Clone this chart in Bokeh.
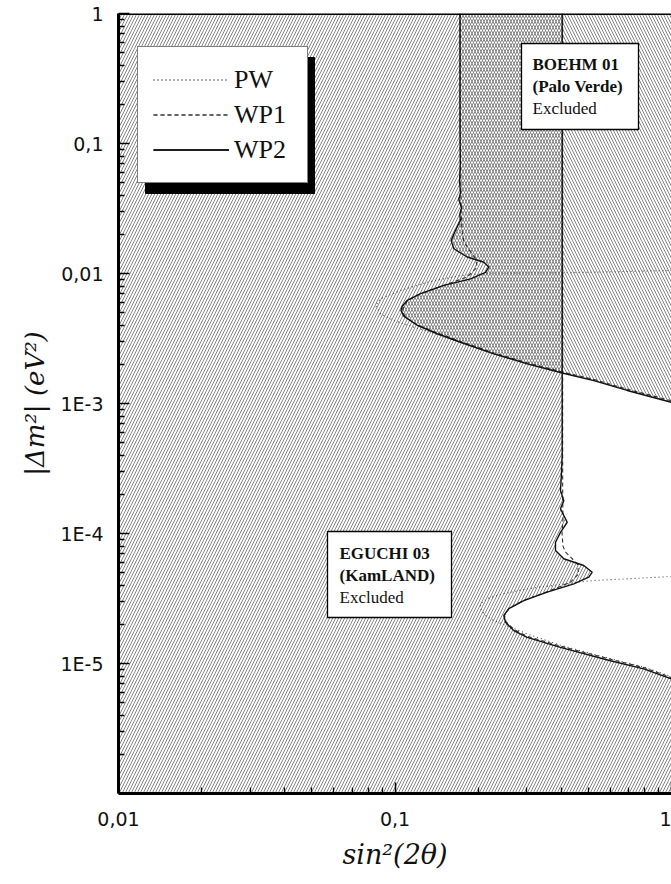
from bokeh.plotting import figure
from bokeh.models import (Range1d, FixedTicker, Legend, LegendItem, Span, Title)
from bokeh.core.properties import value
from bokeh.embed import file_html
from bokeh.resources import INLINE

# ---------------- data ----------------
x_tick_values = [0.01, 0.1, 1.0]
x_tick_labels = ["0,01", "0,1", "1"]
y_tick_values = [1.0, 0.1, 0.01, 1e-3, 1e-4, 1e-5]
y_tick_labels = ["1", "0,1", "0,01", "1E-3", "1E-4", "1E-5"]

# Palo Verde (BOEHM 01) exclusion contours
pv_wp2_x = [0.1718, 0.1718, 0.1722, 0.1712, 0.1726, 0.1701, 0.1740, 0.1714, 0.1724, 0.1654,
            0.1596, 0.1632, 0.1824, 0.2096, 0.2184, 0.2125, 0.1876, 0.1501, 0.1237, 0.1107,
            0.1062, 0.1051, 0.1076, 0.1203, 0.1421, 0.1724, 0.2277, 0.3007, 0.4058, 0.5236,
            0.6918, 1.0]
pv_wp2_y = [1.0, 0.15, 0.07, 0.05, 0.042, 0.037, 0.032, 0.0285, 0.0256, 0.0214,
            0.0179, 0.0155, 0.0134, 0.0122, 0.0112, 0.0102, 0.0091, 0.0081, 0.0070, 0.0062,
            0.0056, 0.0052, 0.0047, 0.0040, 0.00344, 0.00296, 0.00241, 0.00202, 0.00171, 0.00150,
            0.00126, 0.00102]

pv_wp1_x = [0.1722, 0.1722, 0.1730, 0.1735, 0.1745, 0.1774, 0.1955, 0.1983, 0.1824, 0.150,
            0.124, 0.111, 0.1075, 0.1065, 0.109, 0.121, 0.143, 0.173, 0.228, 0.300,
            0.406, 0.524, 0.690, 1.0]
pv_wp1_y = [1.0, 0.1, 0.05, 0.03, 0.022, 0.0175, 0.0130, 0.0112, 0.0094, 0.0081,
            0.0070, 0.0062, 0.0055, 0.0051, 0.0046, 0.0040, 0.00348, 0.00300, 0.00245, 0.00206,
            0.00174, 0.00153, 0.00129, 0.00105]

pv_pw_x = [1.0, 0.4078, 0.2155, 0.1724, 0.1307, 0.1047, 0.0886, 0.0850, 0.0886, 0.0990,
           0.1170, 0.1307, 0.1724, 0.228, 0.300, 0.406, 0.524, 0.690, 1.0]
pv_pw_y = [0.01055, 0.01012, 0.01003, 0.00965, 0.00857, 0.0074, 0.00639, 0.00567, 0.0049, 0.00435,
           0.00386, 0.0036, 0.00298, 0.00243, 0.00204, 0.00173, 0.00152, 0.00127, 0.00103]

# KamLAND (EGUCHI 03) exclusion contours
kl_wp2_x = [0.4024, 0.4024, 0.3990, 0.3967, 0.4078, 0.3967, 0.4196, 0.3967, 0.3806, 0.3806,
            0.4078, 0.4818, 0.5168, 0.5024, 0.4433, 0.3552, 0.2923, 0.2580, 0.2475, 0.2509,
            0.2690, 0.3007, 0.3967, 0.6016, 0.7942, 1.0]
kl_wp2_y = [1.0, 4e-4, 2.6e-4, 2.14e-4, 1.79e-4, 1.55e-4, 1.22e-4, 1.02e-4, 8.57e-5, 7.4e-5,
            6.39e-5, 5.67e-5, 5.04e-5, 4.61e-5, 4.10e-5, 3.54e-5, 3.05e-5, 2.64e-5, 2.34e-5, 2.08e-5,
            1.79e-5, 1.59e-5, 1.33e-5, 1.05e-5, 9.1e-6, 7.6e-6]

kl_wp1_x = [0.4040, 0.4040, 0.4050, 0.4020, 0.4050, 0.4140, 0.4560, 0.4620, 0.4310, 0.3550,
            0.2930, 0.2590, 0.2490, 0.2520, 0.2700, 0.3010, 0.3970, 0.6000, 0.7940, 1.0]
kl_wp1_y = [1.0, 2e-4, 1.3e-4, 1.0e-4, 8.0e-5, 7.2e-5, 5.85e-5, 4.9e-5, 4.22e-5, 3.56e-5,
            3.07e-5, 2.66e-5, 2.36e-5, 2.10e-5, 1.82e-5, 1.62e-5, 1.36e-5, 1.08e-5, 9.3e-6, 7.8e-6]

kl_pw_x = [1.0, 0.6918, 0.5236, 0.4560, 0.3007, 0.2408, 0.2155, 0.2038, 0.2038, 0.2125,
           0.2277, 0.2617, 0.3007, 0.3970, 0.6000, 0.7940, 1.0]
kl_pw_y = [4.67e-5, 4.48e-5, 4.35e-5, 4.22e-5, 3.75e-5, 3.40e-5, 3.15e-5, 2.88e-5, 2.64e-5, 2.34e-5,
           2.14e-5, 1.90e-5, 1.69e-5, 1.38e-5, 1.09e-5, 9.4e-6, 7.9e-6]

series_names = ["PW", "WP1", "WP2"]
box_texts_pv = ["BOEHM 01", "(Palo Verde)", "Excluded"]
box_texts_kl = ["EGUCHI 03", "(KamLAND)", "Excluded"]
x_title = "sin\u00b2(2\u03b8)"
y_title = "|\u0394m\u00b2| (eV\u00b2)"

X_MIN, X_MAX = 0.01, 1.0
Y_MIN, Y_MAX = 1e-6, 1.0

# ---------------- layout helpers (pixel -> data, annotations only) -------
W, H = 671, 884
FL, FR, FT, FB = 118, 671, 13, 793


def px2x(px):
    return 10 ** (-2 + 2 * (px - FL) / (FR - FL))


def py2y(py):
    return 10 ** (0 - 6 * (py - FT) / (FB - FT))


p = figure(width=W, height=H, x_axis_type="log", y_axis_type="log",
           x_range=Range1d(X_MIN, X_MAX), y_range=Range1d(Y_MIN, Y_MAX),
           output_backend="svg", toolbar_location=None,
           min_border_left=FL, min_border_right=0, min_border_top=FT,
           min_border_bottom=H - FB)
p.outline_line_color = None
p.xgrid.visible = False
p.ygrid.visible = False
p.background_fill_color = "white"
p.border_fill_color = "white"

# ---- hatched exclusion regions ----
HATCH_COL = "#858585"
kl_region_x = [X_MIN] + kl_wp2_x + [X_MAX, X_MIN]
kl_region_y = [Y_MAX] + kl_wp2_y + [Y_MIN, Y_MIN]
p.patch(kl_region_x, kl_region_y, fill_alpha=0, line_color=None,
        hatch_pattern="/", hatch_scale=6, hatch_weight=1, hatch_color=HATCH_COL)

pv_region_x = pv_wp2_x + [X_MAX]
pv_region_y = pv_wp2_y + [Y_MAX]
p.patch(pv_region_x, pv_region_y, fill_alpha=0, line_color=None,
        hatch_pattern="\\", hatch_scale=6, hatch_weight=1, hatch_color=HATCH_COL)

# ---- contour lines ----
DOT = "1 3"
DASH = "4 3"
r_pv_pw = p.line(pv_pw_x, pv_pw_y, line_color="#444444", line_width=1.1, line_dash=DOT)
r_kl_pw = p.line(kl_pw_x, kl_pw_y, line_color="#444444", line_width=1.1, line_dash=DOT)
r_pv_wp1 = p.line(pv_wp1_x, pv_wp1_y, line_color="#333333", line_width=1.1, line_dash=DASH)
r_kl_wp1 = p.line(kl_wp1_x, kl_wp1_y, line_color="#333333", line_width=1.1, line_dash=DASH)
r_pv_wp2 = p.line(pv_wp2_x, pv_wp2_y, line_color="#111111", line_width=1.4)
r_kl_wp2 = p.line(kl_wp2_x, kl_wp2_y, line_color="#111111", line_width=1.4)

# ---- legend shadow ----
p.quad(left=[px2x(145)], right=[px2x(314)], top=[py2y(57)], bottom=[py2y(193)],
       fill_color="black", line_color="black")

legend = Legend(items=[
    LegendItem(label=series_names[0], renderers=[r_pv_pw, r_kl_pw]),
    LegendItem(label=series_names[1], renderers=[r_pv_wp1, r_kl_wp1]),
    LegendItem(label=series_names[2], renderers=[r_pv_wp2, r_kl_wp2]),
], location=(137 - FL, FB - 183))
legend.label_text_font = "Liberation Serif"
legend.label_text_font_size = "26px"
legend.label_text_color = "#111111"
legend.glyph_width = 76
legend.glyph_height = 35
legend.label_height = 35
legend.label_width = 58
legend.label_standoff = 5
legend.spacing = 0
legend.padding = 15
legend.margin = 0
legend.border_line_color = "black"
legend.border_line_width = 1.5
legend.background_fill_color = "white"
legend.background_fill_alpha = 1.0
p.add_layout(legend, "center")

# ---- text boxes ----
def text_box(l, r, t, b, tx, lines, y_lines, size):
    p.quad(left=[px2x(l)], right=[px2x(r)], top=[py2y(t)], bottom=[py2y(b)],
           fill_color="white", line_color="black", line_width=1.3)
    for i, (s, yy) in enumerate(zip(lines, y_lines)):
        p.text(x=[px2x(tx)], y=[py2y(yy)], text=[s],
               text_font=value("Liberation Serif"), text_font_size=size,
               text_font_style="bold" if i < 2 else "normal",
               text_color="#111111", text_align="left", text_baseline="middle")

text_box(521, 638, 43, 129, 532, box_texts_pv, [64, 86, 108], "17px")
text_box(327, 451, 531, 617, 339, box_texts_kl, [553, 575, 597], "17px")

# ---- top frame line ----
p.add_layout(Span(location=Y_MAX, dimension="width", line_color="black", line_width=3))

# ---- axes ----
def minor_ticks(lo_exp, hi_exp):
    out = []
    for e in range(lo_exp, hi_exp):
        for m in range(2, 10):
            out.append(m * 10.0 ** e)
    return out

p.xaxis.ticker = FixedTicker(ticks=x_tick_values, minor_ticks=minor_ticks(-2, 0))
p.yaxis.ticker = FixedTicker(ticks=y_tick_values, minor_ticks=minor_ticks(-6, 0))
p.xaxis.major_label_overrides = {v: s for v, s in zip(x_tick_values, x_tick_labels)}
p.yaxis.major_label_overrides = {v: s for v, s in zip(y_tick_values, y_tick_labels)}

for ax in (p.xaxis, p.yaxis):
    ax.axis_line_width = 3
    ax.axis_line_color = "black"
    ax.major_tick_in = 11
    ax.major_tick_out = 0
    ax.minor_tick_in = 6
    ax.minor_tick_out = 0
    ax.major_tick_line_width = 1.5
    ax.minor_tick_line_width = 1.3
    ax.major_label_text_font = "DejaVu Sans"
    ax.major_label_text_font_size = "19px"
    ax.major_label_text_color = "#111111"

p.xaxis.major_label_standoff = 18
p.yaxis.major_label_standoff = 15
p.xaxis.axis_label = x_title
p.xaxis.axis_label_text_font = "DejaVu Serif"
p.xaxis.axis_label_text_font_style = "italic"
p.xaxis.axis_label_text_font_size = "27px"
p.xaxis.axis_label_text_color = "#111111"
p.xaxis.axis_label_standoff = 10

# ---- y-axis title (off-centre as in the reference) ----
y_title_obj = Title(text=y_title, align="center", offset=-41, standoff=16,
                    text_font="DejaVu Serif", text_font_style="italic",
                    text_font_size="26px", text_color="#111111")
p.add_layout(y_title_obj, "left")

open("out.html", "w").write(file_html(p, INLINE))
